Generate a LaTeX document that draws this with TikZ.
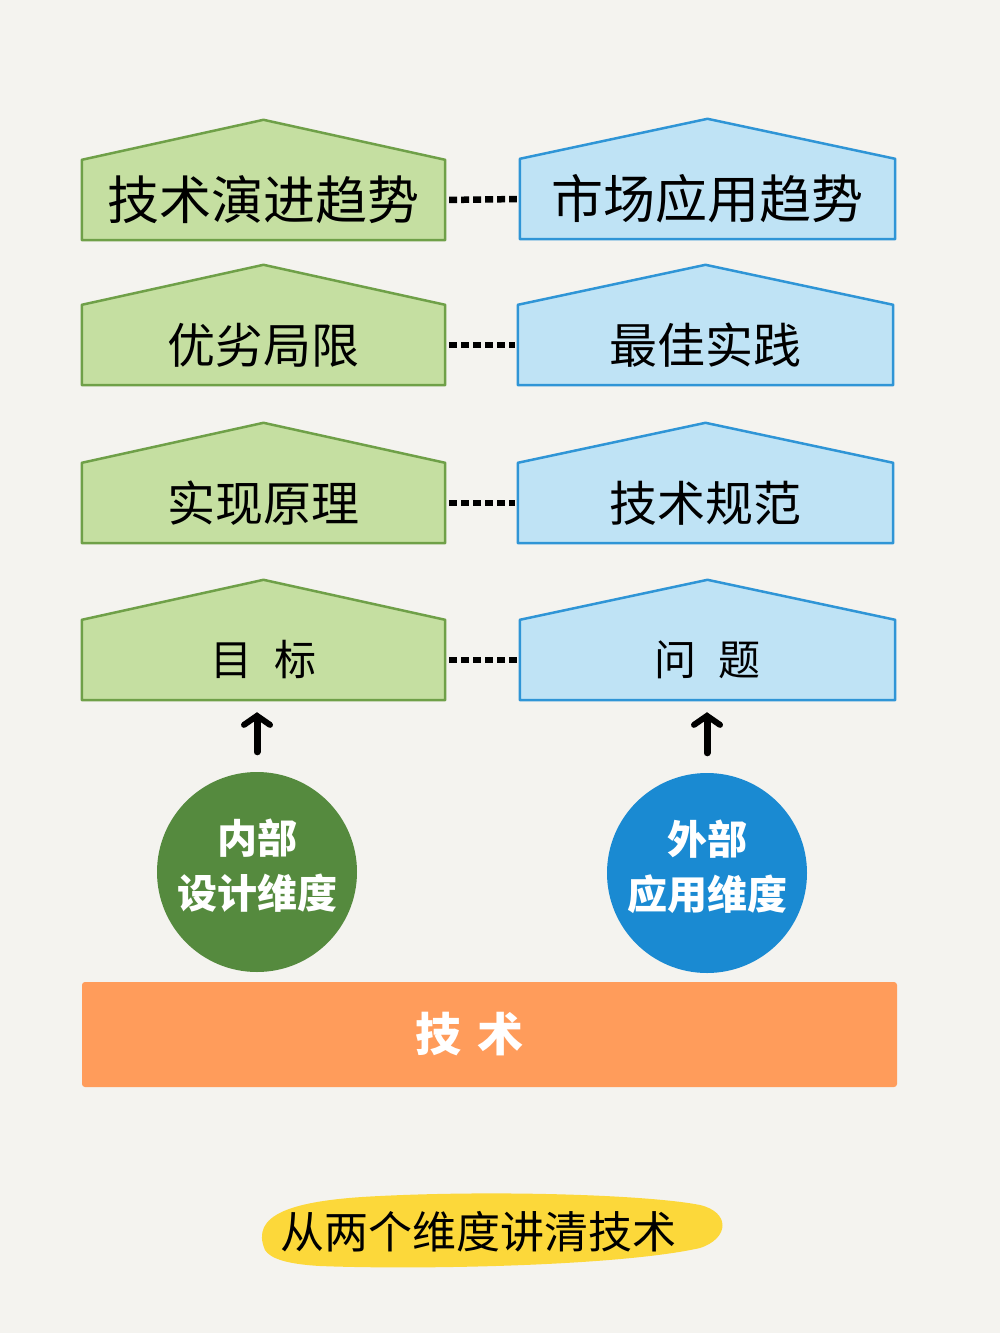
\documentclass[tikz,border=0pt]{standalone}
\usepackage{fontspec}
\newfontfamily\cjk{Noto Sans CJK SC}
\usetikzlibrary{arrows.meta,calc}
\pgfdeclarelayer{bg}
\pgfsetlayers{bg,main}
\definecolor{pagebg}{HTML}{F4F3EF}
\definecolor{gfill}{HTML}{C5DFA1}
\definecolor{gline}{HTML}{6FA048}
\definecolor{bfill}{HTML}{BFE3F5}
\definecolor{bline}{HTML}{2F95D6}
\definecolor{gcirc}{HTML}{558A3E}
\definecolor{bcirc}{HTML}{1A8AD2}
\definecolor{orangebar}{HTML}{FF9C5B}
\definecolor{yellowmark}{HTML}{FCD83A}
\newcommand\houseoutline[3]{%
  \begin{pgfonlayer}{bg}
    \draw[#2] (#1.south west) -- (#1.north west) -- ($(#1.north)+(0,-#3)$) -- (#1.north east) -- (#1.south east) -- cycle;
  \end{pgfonlayer}}
\begin{document}
\begin{tikzpicture}[x=1pt,y=-1pt,
  lbody/.style={minimum width=363pt,minimum height=80pt,inner sep=0pt,font=\cjk\fontsize{48}{56}\selectfont},
  rbody/.style={minimum width=375pt,minimum height=80pt,inner sep=0pt,font=\cjk\fontsize{48}{56}\selectfont},
  greenhouse/.style={fill=gfill,draw=gline,line width=2.5pt,line join=round},
  bluehouse/.style={fill=bfill,draw=bline,line width=2.5pt,line join=round},
  dashlink/.style={line width=6.5pt,dash pattern=on 8pt off 4pt,shorten <=4pt,shorten >=3pt},
  uparrow/.style={line width=7pt,line cap=round,-{Straight Barb[length=9pt,width=26pt,line width=6pt,line cap=round]},shorten <=20pt,shorten >=12pt},
  dimcircle/.style={circle,minimum size=200pt,inner sep=0pt,text=white,align=center,font=\cjk\bfseries\fontsize{40}{55}\selectfont}]
\begin{pgfonlayer}{bg}
\fill[pagebg] (0,0) rectangle (1000,1333);
\end{pgfonlayer}
\useasboundingbox (0,0) rectangle (1000,1333);

% left houses
\node[lbody,font=\cjk\fontsize{52}{60}\selectfont] (L1) at (263.5,200) {技术演进趋势};
\node[lbody] (L2) at (263.5,345) {优劣局限};
\node[lbody] (L3) at (263.5,503) {实现原理};
\node[lbody,font=\cjk\fontsize{42}{50}\selectfont] (L4) at (263.5,660) {目\hspace{22pt}标};
% right houses
\node[rbody,font=\cjk\fontsize{52}{60}\selectfont] (R1) at (707.5,199) {市场应用趋势};
\node[rbody] (R2) at (705.5,345) {最佳实践};
\node[rbody] (R3) at (705.5,503) {技术规范};
\node[rbody,font=\cjk\fontsize{42}{50}\selectfont] (R4) at (707.5,660) {问\hspace{22pt}题};

\houseoutline{L1}{greenhouse}{40}
\houseoutline{L2}{greenhouse}{40}
\houseoutline{L3}{greenhouse}{40}
\houseoutline{L4}{greenhouse}{40}
\houseoutline{R1}{bluehouse}{40}
\houseoutline{R2}{bluehouse}{40}
\houseoutline{R3}{bluehouse}{40}
\houseoutline{R4}{bluehouse}{40}

% dashed links
\draw[dashlink] (L1.east) -- (R1.west);
\draw[dashlink] (L2.east) -- (R2.west);
\draw[dashlink] (L3.east) -- (R3.west);
\draw[dashlink] (L4.east) -- (R4.west);

% circles
\node[dimcircle,fill=gcirc] (CL) at (257,872) {内部\\设计维度\rule[-16pt]{0pt}{0pt}};
\node[dimcircle,fill=bcirc] (CR) at (707,873) {外部\\应用维度\rule[-16pt]{0pt}{0pt}};

% arrows
\draw[uparrow] (CL.north) -- (CL.north |- L4.south);
\draw[uparrow] (CR.north) -- (CR.north |- R4.south);

% orange bar
\node[fill=orangebar,rounded corners=3pt,minimum width=815pt,minimum height=105pt,inner sep=0pt,text=white,font=\cjk\bfseries\fontsize{46}{50}\selectfont] (T) at (489.5,1034.5) {技\hspace{16pt}术\hspace*{40pt}};

% yellow marker label
\fill[yellowmark] (265,1250) .. controls (250,1215) and (290,1200) .. (380,1196)
  .. controls (500,1190) and (650,1195) .. (700,1205)
  .. controls (730,1212) and (730,1238) .. (700,1248)
  .. controls (620,1266) and (420,1270) .. (320,1266)
  .. controls (285,1264) and (270,1258) .. (265,1250) -- cycle;
\node[font=\cjk\fontsize{44}{50}\selectfont] (cap) at (478,1232) {从两个维度讲清技术};
\end{tikzpicture}
\end{document}
